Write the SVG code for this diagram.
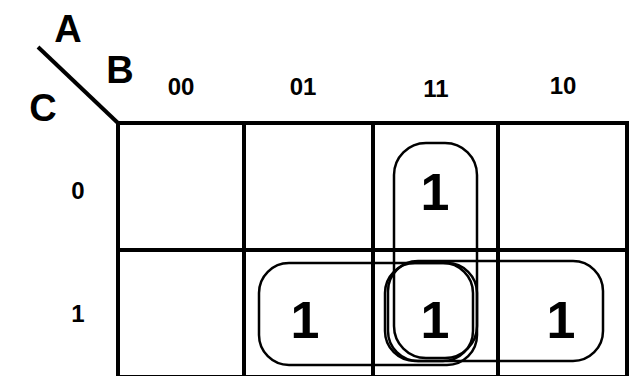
<svg xmlns="http://www.w3.org/2000/svg" width="640" height="376" viewBox="0 0 640 376">
<style>
text{font-family:"Liberation Sans",Arial,sans-serif;font-weight:bold;fill:#000;text-anchor:middle}
.var{font-size:38px}
.lbl{font-size:24px}
.one{font-size:52px}
.grid{stroke:#000;stroke-width:4;fill:none}
.grp{stroke:#000;stroke-width:2.5;fill:none}
</style>
<rect width="640" height="376" fill="#fff"/>
<g id="header">
<line x1="38" y1="47" x2="119" y2="124" stroke="#000" stroke-width="4"/>
<text class="var" x="68" y="42">A</text>
<text class="var" x="120" y="83">B</text>
<text class="var" x="43" y="121">C</text>
<text class="lbl" x="181" y="95">00</text>
<text class="lbl" x="303" y="95">01</text>
<text class="lbl" x="436" y="97">11</text>
<text class="lbl" x="563" y="94">10</text>
<text class="lbl" x="78" y="199">0</text>
<text class="lbl" x="78" y="322">1</text>
</g>
<g id="grid">
<path class="grid" d="M118 123H628M118 250H628M118 377H628M118 121V376M244 123V376M373 123V376M498 123V376M627 121V376"/>
</g>
<g id="cells">
<text class="one" x="435" y="210">1</text>
<text class="one" x="305" y="338">1</text>
<text class="one" x="435" y="338">1</text>
<text class="one" x="561" y="338">1</text>
</g>
<g id="groups">
<rect class="grp" x="394" y="143" width="83" height="215" rx="32"/>
<rect class="grp" x="385" y="263" width="88" height="98" rx="30"/>
<rect class="grp" x="259" y="263" width="218" height="102" rx="30"/>
<rect class="grp" x="388" y="261" width="215" height="100" rx="30"/>
</g>
</svg>
